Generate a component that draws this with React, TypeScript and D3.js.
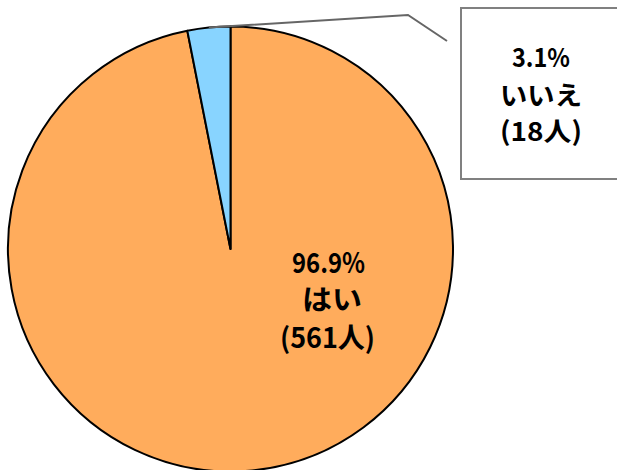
import React from "react";
import * as d3 from "d3";

const categories = ["はい", "いいえ"];
const counts = [561, 18];
const percents = ["96.9%", "3.1%"];
const colors = ["#FFAC5C", "#88D4FF"];

const W = 617;
const H = 470;
const cx = 230.5;
const cy = 249;
const R = 222.5;

export default function App() {
  const total = d3.sum(counts);
  const noAngle = (counts[1] / total) * 2 * Math.PI;
  const slices = [
    { i: 0, start: 0, end: 2 * Math.PI - noAngle },
    { i: 1, start: -noAngle, end: 0 },
  ];
  const arc = d3.arc<any>().innerRadius(0).outerRadius(R);
  const font = "'Noto Sans CJK JP', sans-serif";

  const mid = -noAngle / 2;
  const p0 = [cx + Math.sin(mid) * R, cy - Math.cos(mid) * R];
  const leader = d3.line()([
    [p0[0], p0[1]],
    [408, 15],
    [447, 41],
  ] as [number, number][]);

  const inner = [
    { t: percents[0], x: 328.5, y: 261, w: 73, s: 28 },
    { t: categories[0], x: 332, y: 298, w: 60, s: 28 },
    { t: `(${counts[0]}人)`, x: 327.5, y: 336, w: 95, s: 28 },
  ];
  const outer = [
    { t: percents[1], x: 541, y: 55, w: 58, s: 26 },
    { t: categories[1], x: 541, y: 93, w: 82, s: 26 },
    { t: `(${counts[1]}人)`, x: 541, y: 129, w: 82, s: 26 },
  ];

  const renderLines = (lines: any[]) =>
    lines.map((l, k) => (
      <text
        key={k}
        x={l.x - l.w / 2}
        y={l.y}
        textLength={l.w}
        lengthAdjust="spacingAndGlyphs"
        dominantBaseline="central"
        fontFamily={font}
        fontWeight="bold"
        fontSize={l.s}
        fill="#000"
      >
        {l.t}
      </text>
    ));

  return (
    <svg
      width={W}
      height={H}
      style={{ position: "absolute", left: 0, top: 0, background: "#fff" }}
    >
      {slices.map((s) => (
        <path
          key={s.i}
          d={arc({ startAngle: s.start, endAngle: s.end }) as string}
          transform={`translate(${cx},${cy})`}
          fill={colors[s.i]}
          stroke="#000"
          strokeWidth={2}
          strokeLinejoin="round"
        />
      ))}
      <path d={leader as string} fill="none" stroke="#666" strokeWidth={2} />
      <rect x={461} y={8} width={170} height={171} fill="#fff" stroke="#808080" strokeWidth={2} />
      {renderLines(inner)}
      {renderLines(outer)}
    </svg>
  );
}
